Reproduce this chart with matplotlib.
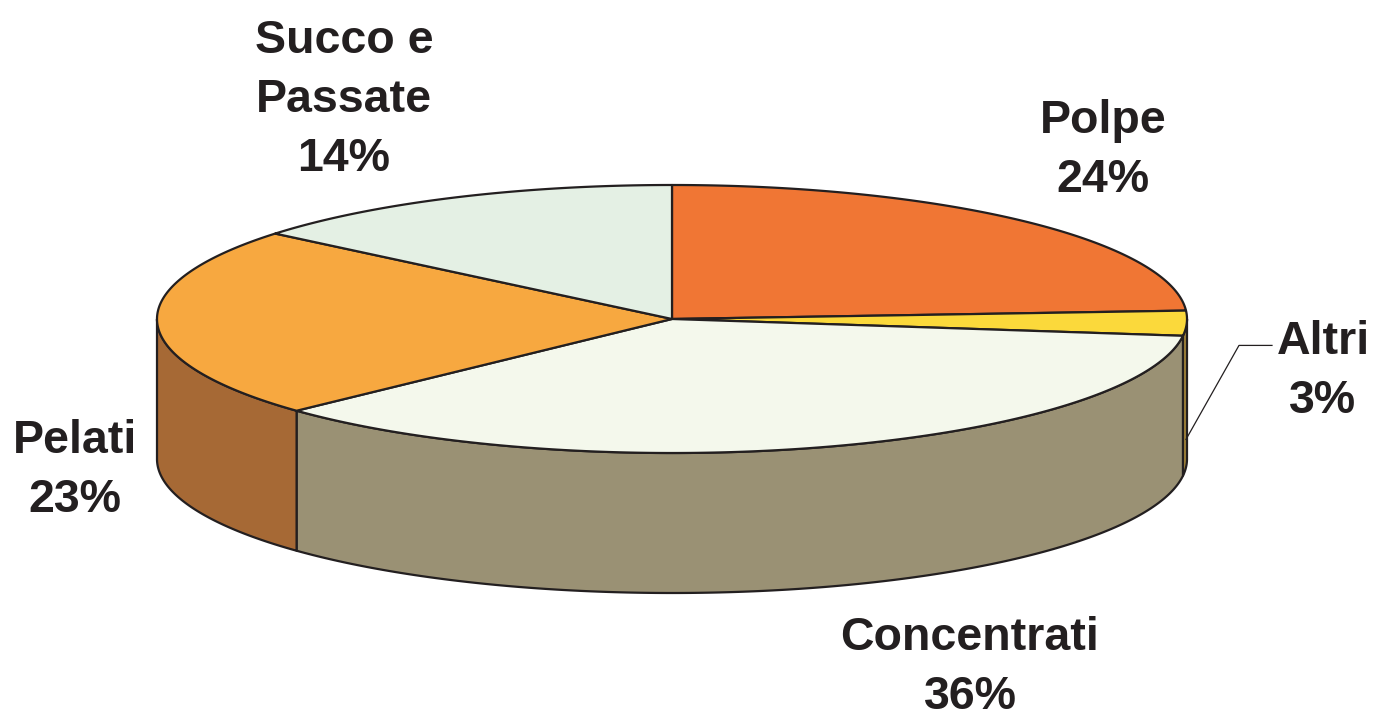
import numpy as np
import matplotlib
matplotlib.use('Agg')
import matplotlib.pyplot as plt
from matplotlib.patches import Polygon

labels = ['Polpe', 'Altri', 'Concentrati', 'Pelati', 'Succo e\nPassate']
values = [24, 3, 36, 23, 14]
top_colors = ['#F07634', '#FBD93B', '#F4F8EC', '#F7A840', '#E4F0E4']
side_colors = ['#A8552A', '#A4853A', '#9A9174', '#A66935', '#A9B4A6']

# label anchors (pixel coords of the first line baseline)
label_pos = [(1103, 133), (1323, 354), (970, 650), (75, 453), (344, 53)]

cx, cy = 672, 319
rx, ry = 515, 134
depth = 140
edge = '#231F20'


def arc(a0, a1, dy=0, n=200):
    t = np.radians(np.linspace(a0, a1, n))
    return np.column_stack([cx + rx * np.cos(t), cy - ry * np.sin(t) + dy])


fig = plt.figure(figsize=(13.75, 7.14), dpi=100)
ax = fig.add_axes([0, 0, 1, 1])
ax.set_xlim(0, 1375)
ax.set_ylim(714, 0)
ax.axis('off')

# slice boundaries, starting at 12 o'clock going clockwise
bounds = []
a = 90.0
for v in values:
    b = a - v * 360.0 / sum(values)
    bounds.append((a, b))
    a = b

# side walls (front half only: -180..0)
for (a0, a1), col in zip(bounds, side_colors):
    hi = min(a0, 0)
    lo = max(a1, -180)
    if hi <= lo:
        continue
    pts = np.vstack([arc(hi, lo), arc(lo, hi, dy=depth)])
    ax.add_patch(Polygon(pts, closed=True, fc=col, ec=edge, lw=1.6, joinstyle='round'))

# top face
for (a0, a1), col in zip(bounds, top_colors):
    pts = np.vstack([[cx, cy], arc(a0, a1)])
    ax.add_patch(Polygon(pts, closed=True, fc=col, ec=edge, lw=1.6, joinstyle='round'))

# labels
for lab, v, (x, y) in zip(labels, values, label_pos):
    lines = lab.split('\n') + ['%d%%' % v]
    for i, ln in enumerate(lines):
        ax.text(x, y + i * 59, ln, ha='center', va='baseline',
                fontsize=33.5, fontweight='bold', family=['Liberation Sans', 'DejaVu Sans'],
                color='#231F20')

# leader line for Altri
a0, a1 = bounds[1]
mid = (min(a0, 0) + max(a1, -180)) / 2
px, py = arc(mid, mid, dy=depth * 0.8, n=1)[0]
ax.plot([px, px + 53, px + 86], [py, py - 94, py - 94], color=edge, lw=0.9)

fig.savefig('out.png', dpi=100)
